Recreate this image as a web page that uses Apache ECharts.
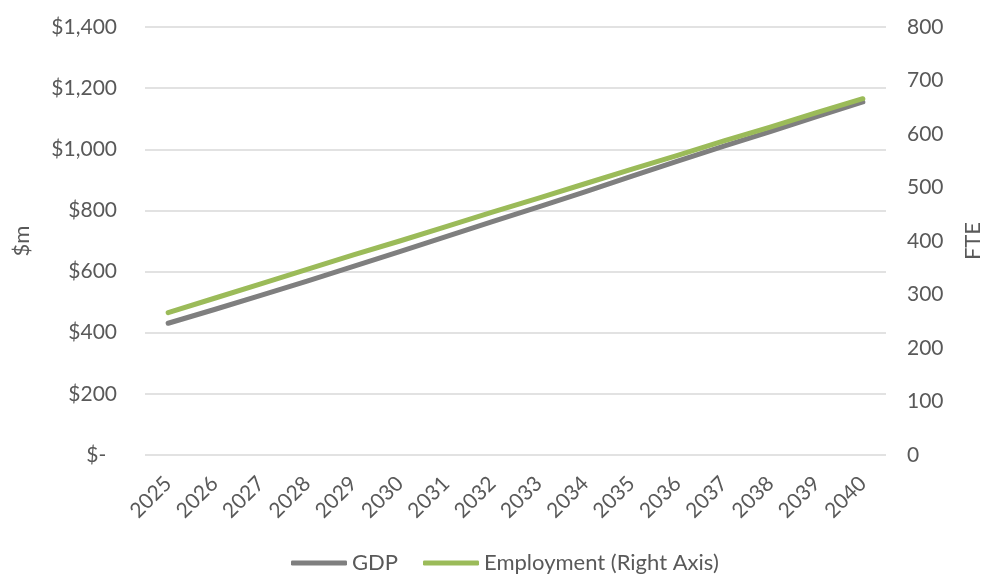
<!DOCTYPE html>
<html>
<head>
<meta charset="utf-8">
<script src="https://cdn.jsdelivr.net/npm/echarts@6/dist/echarts.min.js"></script>
<style>
html,body{margin:0;padding:0;background:#fff;}
#chart{width:992px;height:576px;}
</style>
</head>
<body>
<div id="chart"></div>
<script>
const years = ['2025','2026','2027','2028','2029','2030','2031','2032','2033','2034','2035','2036','2037','2038','2039','2040'];
const gdp = [431,476,522,569,617,665,714,763,812,861,911,961,1010,1058,1107,1155];
const employment = [266,293,320,347,374,400,427,454,480,507,534,560,587,613,640,666];
const seriesNames = ['GDP','Employment (Right Axis)'];
const leftAxisName = '$m';
const rightAxisName = 'FTE';

const FONT = 'Lato';
const TXT = '#595959';

function dollar(v){
  if (v === 0) return '$-  ';
  return '$' + v.toLocaleString('en-US');
}

const chart = echarts.init(document.getElementById('chart'));
chart.setOption({
  animation:false,
  backgroundColor:'#ffffff',
  grid:{left:145,right:94,top:27,bottom:121,containLabel:false},
  legend:{
    top:547,left:286,
    itemWidth:56,itemHeight:5,itemGap:25,
    icon:'roundRect',
    textStyle:{fontFamily:FONT,fontSize:22,color:TXT},
    data:seriesNames
  },
  xAxis:{
    type:'category',
    data:years,
    boundaryGap:true,
    axisLine:{show:false},
    axisTick:{show:false},
    axisLabel:{rotate:45,fontFamily:FONT,fontSize:21,color:TXT,margin:25,interval:0}
  },
  yAxis:[{
    type:'value',min:0,max:1400,interval:200,
    name:leftAxisName,nameLocation:'middle',nameRotate:90,nameGap:112,
    nameTextStyle:{fontFamily:FONT,fontSize:22,color:TXT},
    axisLine:{show:false},axisTick:{show:false},
    axisLabel:{fontFamily:FONT,fontSize:21,color:TXT,margin:28,formatter:dollar},
    splitLine:{lineStyle:{color:'#d9d9d9',width:1.5}}
  },{
    type:'value',min:0,max:800,interval:100,position:'right',
    name:rightAxisName,nameLocation:'middle',nameRotate:90,nameGap:76,
    nameTextStyle:{fontFamily:FONT,fontSize:22,color:TXT},
    axisLine:{show:false},axisTick:{show:false},
    axisLabel:{fontFamily:FONT,fontSize:21,color:TXT,margin:21},
    splitLine:{show:false}
  }],
  series:[{
    name:seriesNames[0],type:'line',yAxisIndex:0,data:gdp,
    showSymbol:false,symbol:'none',
    lineStyle:{color:'#7f7f7f',width:5,cap:'round',join:'round'},
    itemStyle:{color:'#7f7f7f'}
  },{
    name:seriesNames[1],type:'line',yAxisIndex:1,data:employment,
    showSymbol:false,symbol:'none',
    lineStyle:{color:'#9bbb59',width:5,cap:'round',join:'round'},
    itemStyle:{color:'#9bbb59'}
  }]
});
</script>
</body>
</html>
